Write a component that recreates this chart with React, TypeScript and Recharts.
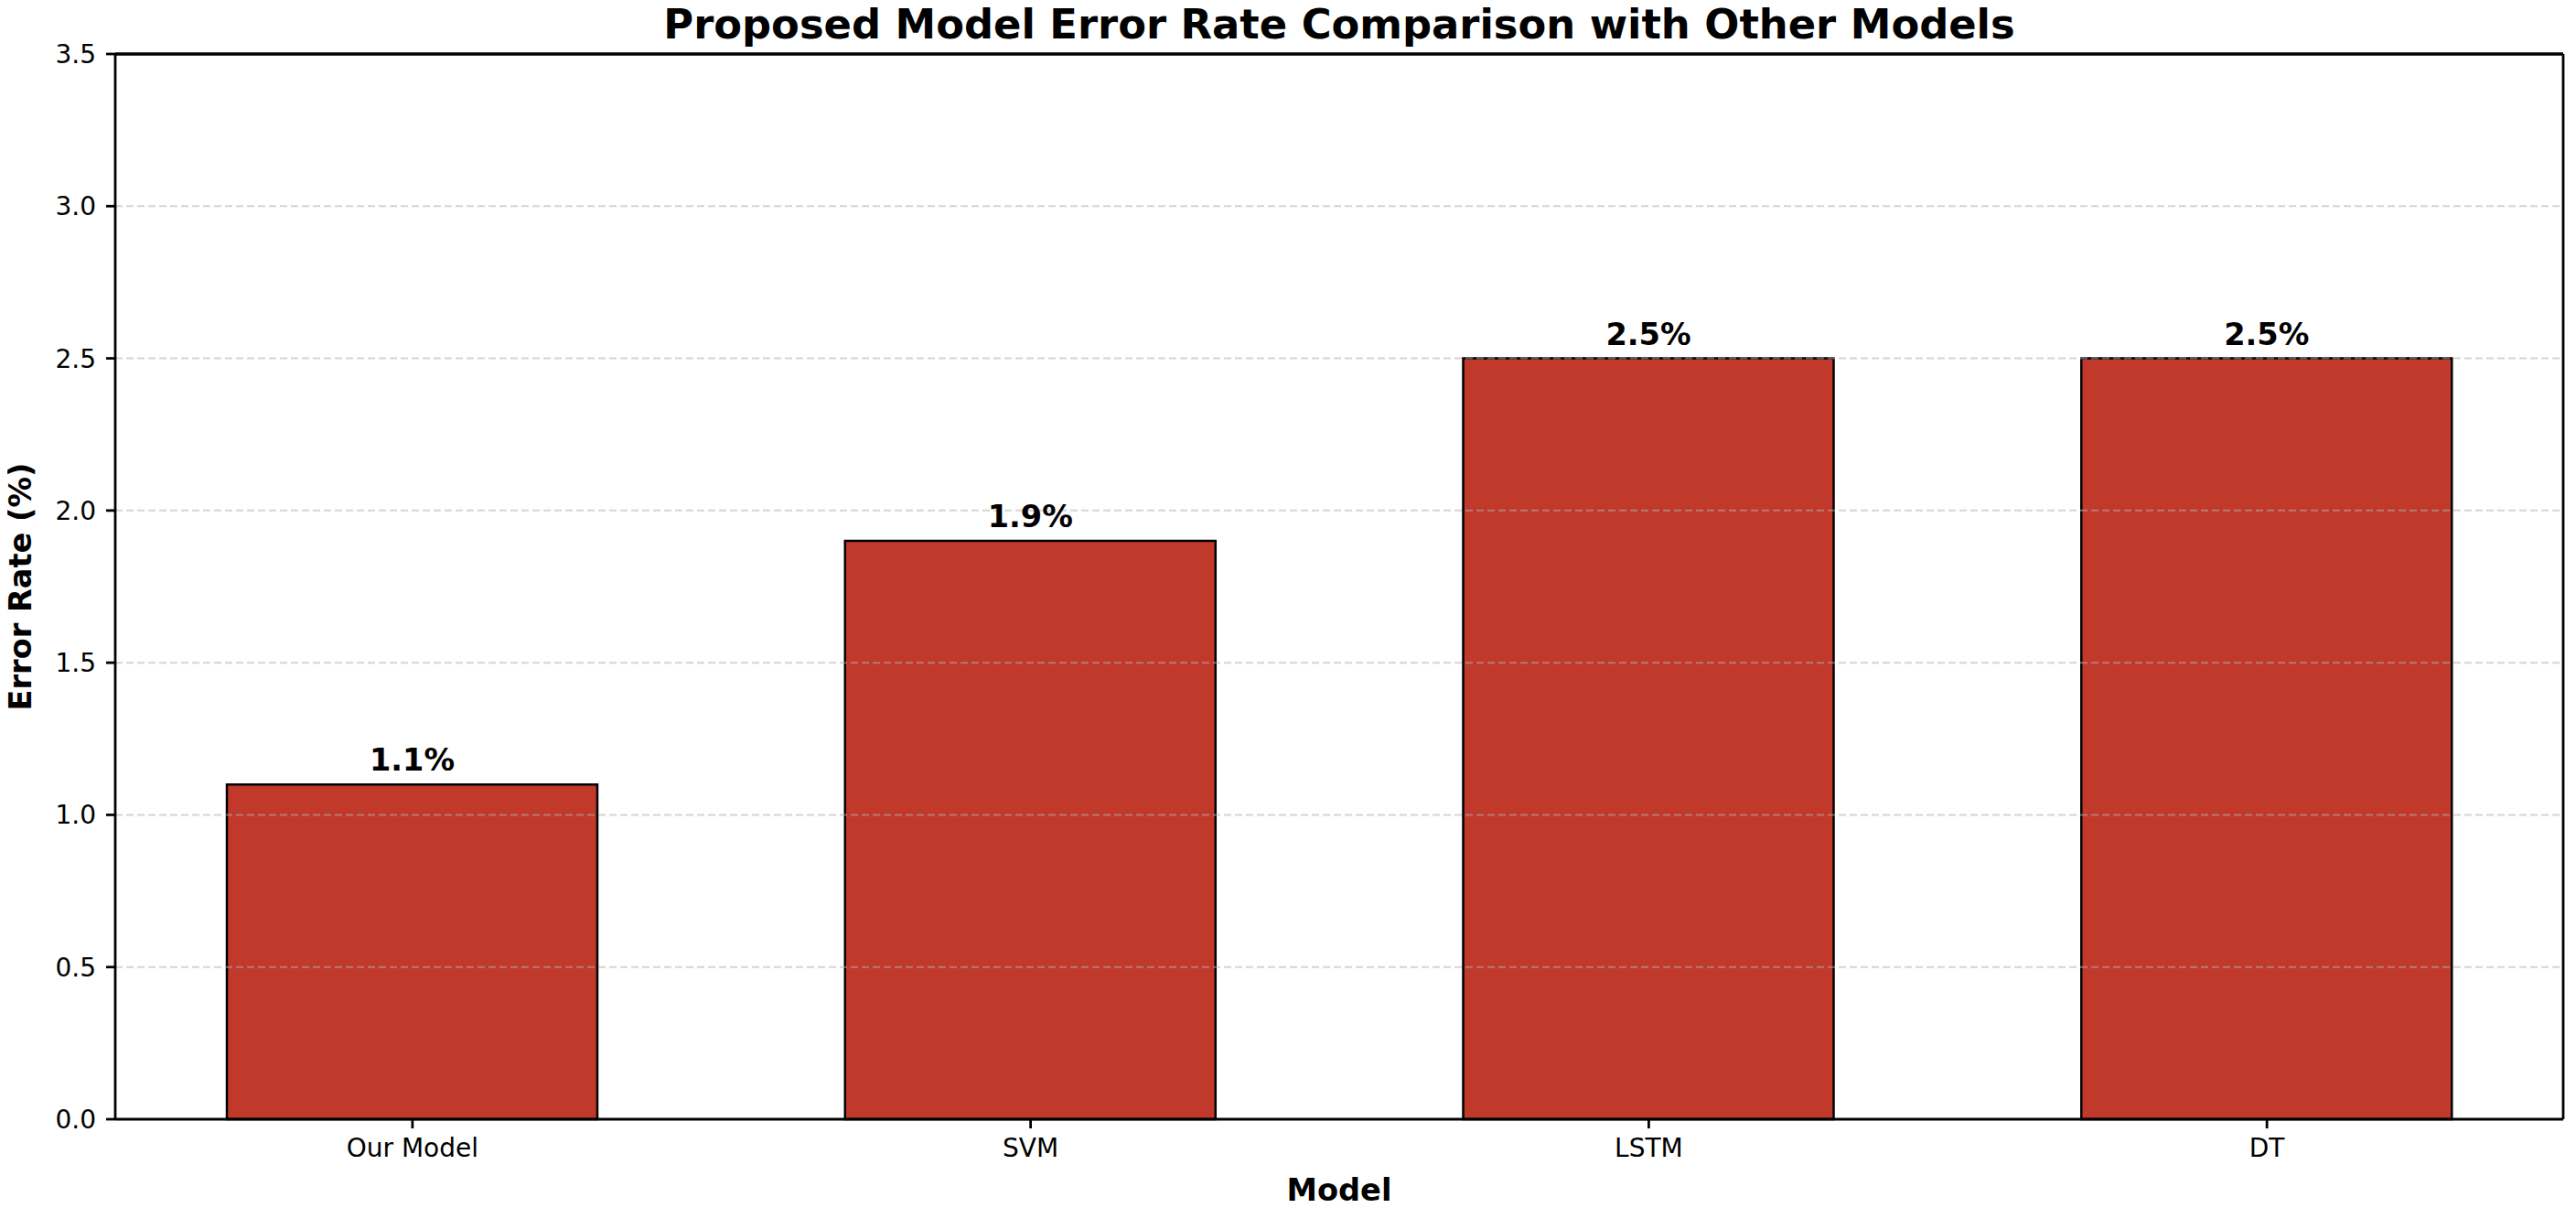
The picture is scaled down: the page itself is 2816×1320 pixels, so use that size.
import React from "react";
import { BarChart, Bar, XAxis, YAxis, ReferenceLine, LabelList, Label } from "recharts";

const models = ["Our Model", "SVM", "LSTM", "DT"];
const errorRates = [1.1, 1.9, 2.5, 2.5];
const yTicks = [0, 0.5, 1, 1.5, 2, 2.5, 3, 3.5];
const gridLines = [0.5, 1, 1.5, 2, 2.5, 3];

const data = models.map((name, i) => ({ name, rate: errorRates[i] }));

const FONT = "'DejaVu Sans', sans-serif";

export default function App() {
  return (
    <div style={{ margin: -8, width: 2816, height: 1320, background: "#fff", fontFamily: FONT }}>
      <BarChart width={2816} height={1320} data={data} margin={{ top: 58, right: 13, bottom: 0, left: 0 }}>
        <XAxis
          dataKey="name"
          height={97}
          padding={{ left: -13, right: -14 }}
          axisLine={{ stroke: "#000", strokeWidth: 2.8 }}
          tickLine={{ stroke: "#000", strokeWidth: 2.8 }}
          tickSize={10}
          tickMargin={11}
          tick={{ fill: "#000", fontSize: 28, fontFamily: FONT }}
        >
          <Label value="Model" position="insideBottom" offset={8} fill="#000" fontSize={33.6} fontWeight="bold" fontFamily={FONT} />
        </XAxis>
        <XAxis xAxisId="top" dataKey="name" orientation="top" height={1} tick={false} tickLine={false} axisLine={{ stroke: "#000", strokeWidth: 2.8 }}>
          <Label value="Proposed Model Error Rate Comparison with Other Models" position="top" offset={16} fill="#000" fontSize={44.8} fontWeight="bold" fontFamily={FONT} />
        </XAxis>
        <YAxis
          width={126}
          domain={[0, 3.5]}
          ticks={yTicks}
          tickFormatter={(v: number) => v.toFixed(1)}
          axisLine={{ stroke: "#000", strokeWidth: 2.8 }}
          tickLine={{ stroke: "#000", strokeWidth: 2.8 }}
          tickSize={10}
          tickMargin={11}
          tick={{ fill: "#000", fontSize: 28, fontFamily: FONT }}
        >
          <Label
            content={(props: any) => {
              const vb = props.viewBox;
              const cy = vb.y + vb.height / 2;
              return (
                <text
                  x={22}
                  y={cy}
                  transform={`rotate(-90, 22, ${cy})`}
                  textAnchor="middle"
                  dominantBaseline="central"
                  fill="#000"
                  fontSize={33.6}
                  fontWeight="bold"
                  fontFamily={FONT}
                >
                  Error Rate (%)
                </text>
              );
            }}
          />
        </YAxis>
        <YAxis yAxisId="right" orientation="right" width={1} tick={false} tickLine={false} axisLine={{ stroke: "#000", strokeWidth: 2.8 }} />
        <Bar dataKey="rate" fill="#c0392b" stroke="#000" strokeWidth={2.5} barSize={405} isAnimationActive={false}>
          <LabelList
            dataKey="rate"
            position="top"
            offset={15}
            formatter={(v: any) => `${Number(v).toFixed(1)}%`}
            fill="#000"
            fontSize={33.6}
            fontWeight="bold"
            fontFamily={FONT}
          />
        </Bar>
        {gridLines.map((g) => (
          <ReferenceLine key={g} y={g} stroke="#b0b0b0" strokeOpacity={0.55} strokeWidth={2} strokeDasharray="8 4" />
        ))}
        <ReferenceLine y={3.5} stroke="#000" strokeWidth={2.8} />
      </BarChart>
    </div>
  );
}
